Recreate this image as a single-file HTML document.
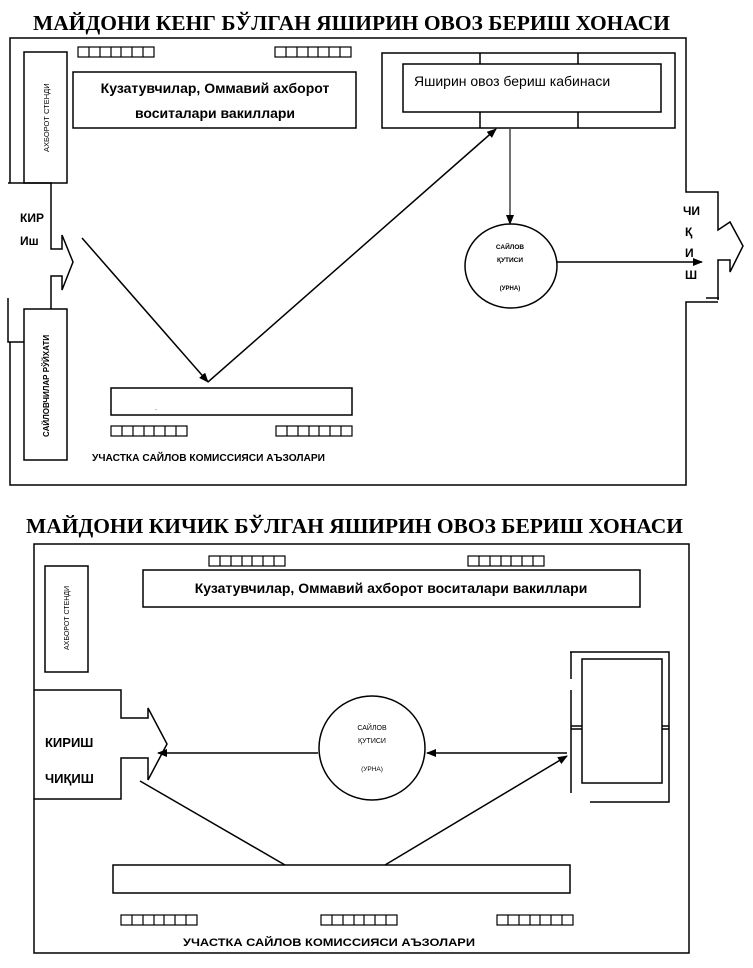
<!DOCTYPE html>
<html><head><meta charset="utf-8"><style>
html,body{margin:0;padding:0;background:#fff;}
svg{display:block;}
.s{font-family:"Liberation Sans","DejaVu Sans",sans-serif;font-weight:bold;fill:#000;}
.t{font-family:"Liberation Serif","DejaVu Serif",serif;font-weight:bold;fill:#000;}
</style></head><body>
<svg width="753" height="968" viewBox="0 0 753 968" xmlns="http://www.w3.org/2000/svg">
<defs>
<marker id="a" markerWidth="10" markerHeight="8" refX="9" refY="4" orient="auto" markerUnits="userSpaceOnUse"><path d="M0,0 L10,4 L0,8 z" fill="#000"/></marker>
<g id="r7" fill="none" stroke="#000" stroke-width="1.2"><rect x="0" y="0" width="76" height="10" fill="none"/><path d="M11,0v10M22,0v10M33,0v10M43,0v10M54,0v10M65,0v10" fill="none"/></g>
</defs>
<g fill="none" stroke="#000" stroke-width="1.5">
<!-- TOP DIAGRAM -->
<polyline points="10,183 10,38 686,38 686,192 718,192 718,230 730,222 743,246 730,272 730,260 718,260 718,300"/>
<line x1="706" y1="298" x2="719" y2="298"/>
<polyline points="718,302 686,302 686,485 10,485 10,342"/>
<polyline points="8,183 51,183 51,249 62,249 62,235 73,262 62,290 62,276 51,276 51,309"/>
<polyline points="8,298 8,342 24,342"/>
<rect x="24" y="52" width="43" height="131"/>
<rect x="24" y="309" width="43" height="151"/>
<rect x="73" y="72" width="283" height="56"/>
<rect x="382" y="53" width="293" height="75"/>
<rect x="403" y="64" width="258" height="48"/>
<line x1="480" y1="53" x2="480" y2="64"/><line x1="578" y1="53" x2="578" y2="64"/>
<line x1="480" y1="112" x2="480" y2="128"/><line x1="578" y1="112" x2="578" y2="128"/>
<ellipse cx="511" cy="266" rx="46" ry="42"/>
<rect x="111" y="388" width="241" height="27"/>
<line x1="510" y1="128" x2="510" y2="224" stroke="#444" marker-end="url(#a)"/>
<line x1="557" y1="262" x2="702" y2="262" marker-end="url(#a)"/>
<line x1="82" y1="238" x2="208" y2="382" marker-end="url(#a)"/>
<line x1="208" y1="382" x2="496" y2="129" marker-end="url(#a)"/>
<!-- BOTTOM DIAGRAM -->
<polyline points="34,690 34,544 689,544 689,953 34,953 34,799"/>
<polyline points="34,690 121,690 121,718 148,718 148,708 167,744 148,780 148,758 121,758 121,799 34,799 34,690"/>
<rect x="45" y="566" width="43" height="106"/>
<rect x="143" y="570" width="497" height="37"/>
<ellipse cx="372" cy="748" rx="53" ry="52"/>
<line x1="318" y1="753" x2="158" y2="753" marker-end="url(#a)"/>
<line x1="567" y1="753" x2="427" y2="753" marker-end="url(#a)"/>
<polyline points="570,652 669,652 669,802 590,802"/>
<line x1="571" y1="652" x2="571" y2="679"/>
<line x1="571" y1="690" x2="571" y2="793"/>
<rect x="582" y="659" width="80" height="124"/>
<line x1="571" y1="726" x2="582" y2="726"/><line x1="571" y1="729" x2="582" y2="729"/>
<line x1="662" y1="726" x2="669" y2="726"/><line x1="662" y1="729" x2="669" y2="729"/>
<line x1="140" y1="781" x2="285" y2="865"/>
<line x1="385" y1="865" x2="567" y2="756" marker-end="url(#a)"/>
<rect x="113" y="865" width="457" height="28"/>
</g>
<use href="#r7" x="78" y="47"/>
<use href="#r7" x="275" y="47"/>
<use href="#r7" x="111" y="426"/>
<use href="#r7" x="276" y="426"/>
<use href="#r7" x="209" y="556"/>
<use href="#r7" x="468" y="556"/>
<use href="#r7" x="121" y="915"/>
<use href="#r7" x="321" y="915"/>
<use href="#r7" x="497" y="915"/>
<!-- TEXT -->
<text class="t" x="33" y="30" font-size="21" textLength="637" lengthAdjust="spacingAndGlyphs">МАЙДОНИ КЕНГ БЎЛГАН ЯШИРИН ОВОЗ БЕРИШ ХОНАСИ</text>
<text class="t" x="26" y="533" font-size="21" textLength="657" lengthAdjust="spacingAndGlyphs">МАЙДОНИ КИЧИК БЎЛГАН ЯШИРИН ОВОЗ БЕРИШ ХОНАСИ</text>
<text class="s" x="215" y="93" font-size="14" text-anchor="middle">Кузатувчилар, Оммавий ахборот</text>
<text class="s" x="215" y="118" font-size="14" text-anchor="middle">воситалари вакиллари</text>
<text x="414" y="86" font-size="14" font-family="Liberation Sans, sans-serif">Яширин овоз бериш кабинаси</text>
<text x="0" y="0" font-size="7.5" font-family="Liberation Sans, sans-serif" transform="translate(49,152) rotate(-90)">АХБОРОТ СТЕНДИ</text>
<text class="s" x="0" y="0" font-size="8" transform="translate(49,437) rotate(-90)">САЙЛОВЧИЛАР РЎЙХАТИ</text>
<text class="s" x="20" y="222" font-size="12">КИР</text>
<text class="s" x="20" y="245" font-size="12">Иш</text>
<text class="s" x="683" y="215" font-size="12">ЧИ</text>
<text class="s" x="685" y="236" font-size="12">Қ</text>
<text class="s" x="685" y="257" font-size="12">И</text>
<text class="s" x="685" y="279" font-size="12">Ш</text>
<text class="s" x="510" y="249" font-size="6.5" text-anchor="middle">САЙЛОВ</text>
<text class="s" x="510" y="262" font-size="6.5" text-anchor="middle">ҚУТИСИ</text>
<text class="s" x="510" y="290" font-size="6" text-anchor="middle">(УРНА)</text>
<text x="155" y="410" font-size="5">..</text>
<text class="s" x="92" y="461" font-size="10" textLength="233" lengthAdjust="spacingAndGlyphs">УЧАСТКА САЙЛОВ КОМИССИЯСИ АЪЗОЛАРИ</text>
<text class="s" x="391" y="593" font-size="14" text-anchor="middle">Кузатувчилар, Оммавий ахборот воситалари вакиллари</text>
<text x="0" y="0" font-size="7" font-family="Liberation Sans, sans-serif" transform="translate(69,650) rotate(-90)">АХБОРОТ СТЕНДИ</text>
<text class="s" x="45" y="747" font-size="13">КИРИШ</text>
<text class="s" x="45" y="783" font-size="13">ЧИҚИШ</text>
<text x="372" y="730" font-size="7" font-family="Liberation Sans, sans-serif" text-anchor="middle">САЙЛОВ</text>
<text x="372" y="743" font-size="7" font-family="Liberation Sans, sans-serif" text-anchor="middle">ҚУТИСИ</text>
<text x="372" y="771" font-size="6.5" font-family="Liberation Sans, sans-serif" text-anchor="middle">(УРНА)</text>
<text class="s" x="183" y="946" font-size="11" textLength="292" lengthAdjust="spacingAndGlyphs">УЧАСТКА САЙЛОВ КОМИССИЯСИ АЪЗОЛАРИ</text>
</svg>
</body></html>
